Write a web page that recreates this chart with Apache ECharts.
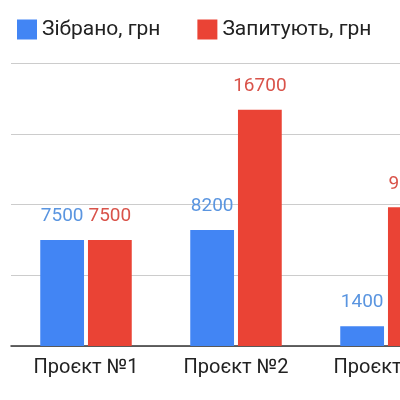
<!DOCTYPE html>
<html><head><meta charset="utf-8">
<script src="https://cdn.jsdelivr.net/npm/echarts@6/dist/echarts.min.js"></script>
<style>html,body{margin:0;padding:0;background:#fff;overflow:hidden;width:400px;height:400px}#c{width:461px;height:400px}</style>
</head><body><div id="c"></div>
<script>
var categories = ['Проєкт №1', 'Проєкт №2', 'Проєкт №3'];
var collected = [7500, 8200, 1400];
var requested = [7500, 16700, 9800];

var chart = echarts.init(document.getElementById('c'));
var font = 'Roboto, sans-serif';
chart.setOption({
  animation: false,
  legend: {
    left: 12, top: 14, itemWidth: 20, itemHeight: 20, itemGap: 37, icon: 'rect',
    textStyle: { fontSize: 21, color: '#222', fontFamily: font }
  },
  grid: { left: 11, right: 0, top: 63, bottom: 54 },
  xAxis: {
    type: 'category', data: categories,
    axisTick: { show: false },
    axisLine: { lineStyle: { color: '#333', width: 1.5 } },
    axisLabel: { fontSize: 20, color: '#222', margin: 12, fontFamily: font }
  },
  yAxis: {
    type: 'value', min: 0, max: 20000, interval: 5000,
    axisLabel: { show: false },
    splitLine: { lineStyle: { color: '#ccc' } }
  },
  series: [
    { name: 'Зібрано, грн', type: 'bar', data: collected, color: '#4285F4',
      barGap: '9%', barCategoryGap: '39%',
      label: { show: true, position: 'top', distance: 14, fontSize: 19, color: '#5a95e0', fontFamily: font } },
    { name: 'Запитують, грн', type: 'bar', data: requested, color: '#EA4335',
      label: { show: true, position: 'top', distance: 14, fontSize: 19, color: '#d9534a', fontFamily: font } }
  ]
});
</script></body></html>
